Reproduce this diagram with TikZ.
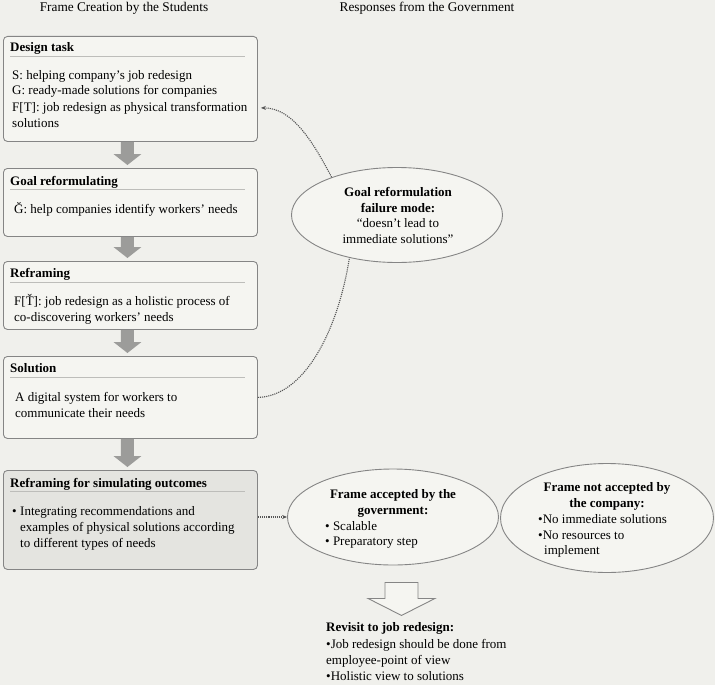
\documentclass[tikz,border=0pt]{standalone}
\usepackage{fontspec}
\setmainfont{Liberation Serif}
\usetikzlibrary{arrows.meta,calc,shapes.geometric}
\definecolor{bg}{HTML}{F0F0EC}
\definecolor{boxfill}{HTML}{F5F5F1}
\definecolor{graybox}{HTML}{E4E4E0}
\definecolor{edgec}{HTML}{858585}
\definecolor{rulec}{HTML}{BDBDBA}
\definecolor{agray}{HTML}{9C9C9A}
\definecolor{dotc}{HTML}{555555}
\tikzset{
  stepbox/.style={draw=edgec, line width=0.9pt, rounded corners=4pt, fill=boxfill, anchor=north west, inner sep=0pt},
  oval/.style={ellipse, draw=edgec, line width=0.9pt, fill=boxfill, inner sep=0pt},
  txt/.style={anchor=base west, inner sep=0pt, font=\fontsize{13}{15}\selectfont},
  ctxt/.style={anchor=base, inner sep=0pt, font=\fontsize{13}{15}\selectfont},
  hdr/.style={anchor=base, inner sep=0pt, font=\fontsize{13.3}{15}\selectfont},
  ttl/.style={anchor=base west, inner sep=0pt, font=\fontsize{13}{15}\selectfont\bfseries},
  cttl/.style={anchor=base, inner sep=0pt, font=\fontsize{13}{15}\selectfont\bfseries},
  rl/.style={draw=rulec, line width=1pt},
  dotline/.style={draw=dotc, line width=1.1pt, densely dotted},
  tip/.style={-{Stealth[length=5pt,width=4pt]}},
}
\newcommand\blockarr[2]{\fill[agray] let \p1=(#1.south), \p2=(#2.north) in
  (\x1-9.5pt,\y1) -- (\x1+3.5pt,\y1) -- (\x1+3.5pt,\y2+14pt) -- (\x1+11pt,\y2+14pt)
  -- (\x1-3pt,\y2+3pt) -- (\x1-17pt,\y2+14pt) -- (\x1-9.5pt,\y2+14pt) -- cycle;}
\newcommand\boxrule[1]{\draw[rl] ($(#1.north west)+(7,21)$) -- ($(#1.north east)+(-13,21)$);}
\begin{document}
\begin{tikzpicture}[x=1pt,y=-1pt]
\fill[bg] (0,0) rectangle (715,685);
\useasboundingbox (0,0) rectangle (715,685);

% headers
\node[hdr] (h1) at (124,12) {Frame Creation by the Students};
\node[hdr] (h2) at (427,12) {Responses from the Government};

% boxes
\node[stepbox, minimum width=254pt, minimum height=105pt] (b1) at (3,36) {};
\node[stepbox, minimum width=254pt, minimum height=68pt] (b2) at (3,168) {};
\node[stepbox, minimum width=254pt, minimum height=68pt] (b3) at (3,261) {};
\node[stepbox, minimum width=254pt, minimum height=82pt] (b4) at (3,356) {};
\node[stepbox, fill=graybox, minimum width=254pt, minimum height=99pt] (b5) at (3,470) {};
\boxrule{b1}\boxrule{b2}\boxrule{b3}\boxrule{b4}\boxrule{b5}

% block arrows
\blockarr{b1}{b2}
\blockarr{b2}{b3}
\blockarr{b3}{b4}
\blockarr{b4}{b5}

% box texts
\node[ttl] (t1) at (10,52) {Design task};
\node[txt] (t1a) at (12,79) {S: helping company’s job redesign};
\node[txt] (t1b) at (12,95) {G: ready-made solutions for companies};
\node[txt] (t1c) at (12,111) {F[T]: job redesign as physical transformation};
\node[txt] (t1d) at (12,127) {solutions};

\node[ttl] (t2) at (10,185) {Goal reformulating};
\node[txt] (t2a) at (14,213) {Ğ: help companies identify workers’ needs};

\node[ttl] (t3) at (10,277) {Reframing};
\node[txt] (t3a) at (14,305) {F[Ť]: job redesign as a holistic process of};
\node[txt] (t3b) at (14,321) {co-discovering workers’ needs};

\node[ttl] (t4) at (10,372) {Solution};
\node[txt] (t4a) at (15,401) {A digital system for workers to};
\node[txt] (t4b) at (15,417) {communicate their needs};

\node[ttl] (t5) at (10,487) {Reframing for simulating outcomes};
\node[txt] (t5a) at (12,515) {•};
\node[txt] (t5b) at (20,515) {Integrating recommendations and};
\node[txt] (t5c) at (20,531) {examples of physical solutions according};
\node[txt] (t5d) at (20,547) {to different types of needs};

% ellipses
\node[oval, minimum width=211pt, minimum height=95pt] (e1) at (397,215) {};
\node[oval, minimum width=211pt, minimum height=96pt] (e2) at (393,517) {};
\node[oval, minimum width=213pt, minimum height=109pt] (e3) at (607,518) {};

\node[cttl] (e1a) at (398,196) {Goal reformulation};
\node[cttl] (e1b) at (398,212) {failure mode:};
\node[ctxt] (e1c) at (398,227) {“doesn’t lead to};
\node[ctxt] (e1d) at (398,243) {immediate solutions”};

\node[cttl] (e2a) at (393,498) {Frame accepted by the};
\node[cttl] (e2b) at (393,514) {government:};
\node[txt] (e2c) at (325,530) {• Scalable};
\node[txt] (e2d) at (325,545) {• Preparatory step};

\node[cttl] (e3a) at (607,491) {Frame not accepted by};
\node[cttl] (e3b) at (607,507) {the company:};
\node[txt] (e3c) at (538,523) {•No immediate solutions};
\node[txt] (e3d) at (538,539) {•No resources to};
\node[txt] (e3e) at (544,554) {implement};

% hollow arrow
\coordinate (ha) at ($(e2.south)+(8.5,17)$);
\draw[edgec, line width=0.9pt, fill=boxfill]
  ($(ha)+(-16.5,0)$) -- ($(ha)+(16.5,0)$) -- ($(ha)+(16.5,16)$) -- ($(ha)+(33.5,16)$)
  -- ($(ha)+(0,33)$) -- ($(ha)+(-33.5,16)$) -- ($(ha)+(-16.5,16)$) -- cycle;

% revisit text
\node[ttl] (r0) at (326,631) {Revisit to job redesign:};
\node[txt] (r1) at (326,648) {•Job redesign should be done from};
\node[txt] (r2) at (326,664) {employee-point of view};
\node[txt] (r3) at (326,680) {•Holistic view to solutions};

% dotted connectors
\draw[dotline, tip] (b5.east |- e2.west) -- (e2.west);
\draw[dotline] (b4.east) .. controls (305,396) and (338,330) .. (e1.222);
\draw[dotline, tip] (e1.150) .. controls (312,140) and (292,108) .. ($(b1.south east)+(3,-34)$);
\end{tikzpicture}
\end{document}
